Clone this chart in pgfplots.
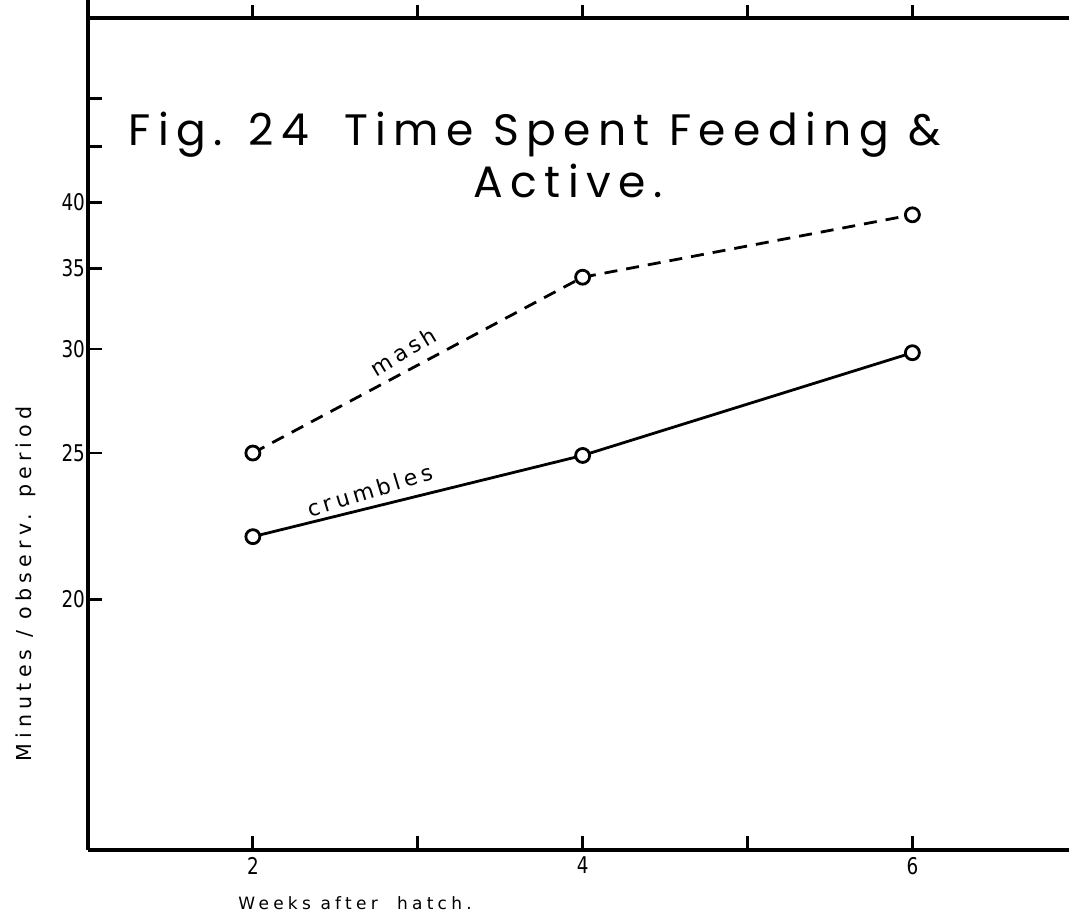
\documentclass[border=0pt]{standalone}
\usepackage{fontspec}
\setmainfont{DejaVu Sans}
\newfontfamily\titlefont[LetterSpace=17]{Poppins}
\newfontfamily\labelfont[LetterSpace=25]{DejaVu Sans}
\newfontfamily\curvefont[LetterSpace=18]{DejaVu Sans}
\newfontfamily\tickfont[FakeStretch=0.8]{DejaVu Sans}
\usepackage{pgfplots}
\pgfplotsset{compat=1.18}

\begin{document}
\begin{tikzpicture}
\begin{axis}[
    scale only axis,
    width=490.5pt, height=416pt,
    xmin=1, xmax=6.95,
    ymin=15, ymax=60,
    % hand-drawn scale: roughly logarithmic in (y-10)
    y coord trafo/.code={\pgfmathparse{ln(max(#1-10,0.001))}},
    y coord inv trafo/.code={\pgfmathparse{exp(#1)+10}},
    axis x line*=box, axis y line*=left,
    axis line style={line width=1.8pt, -},
    xtick={2,3,4,5,6}, xticklabels={2,,4,,6},
    ytick={20,25,30,35,40,45,50}, yticklabels={20,25,30,35,40,,},
    xtick pos=bottom, ytick pos=left,
    tick align=inside,
    major tick length=7pt,
    tick style={line width=1.4pt, black},
    tick label style={font=\tickfont\fontsize{11.5}{13}\selectfont},
    yticklabel style={xshift=2pt},
    /pgf/number format/assume math mode=true,
    clip=false,
]

% crumbles
\addplot[black, line width=1.4pt, mark=*, mark size=3.5pt,
    mark options={solid, fill=white, line width=1.4pt}]
    coordinates {(2,21.9) (4,24.9) (6,29.8)};

% mash
\addplot[black, line width=1.4pt, dash pattern=on 6.5pt off 4.5pt,
    mark=*, mark size=3.5pt, mark options={solid, fill=white, line width=1.4pt}]
    coordinates {(2,25.0) (4,34.4) (6,39.0)};

\node[rotate=31, anchor=south, inner sep=5pt, font=\curvefont\fontsize{11}{13}\selectfont]
    at (axis cs:2.97,29.0) {mash};
\node[rotate=17, anchor=south, inner sep=4pt, font=\curvefont\fontsize{11}{13}\selectfont]
    at (axis cs:2.74,22.93) {crumbles};

% ticks on the top edge point outwards
\draw[line width=1.4pt] (axis cs:2,60) -- ++(0pt,6.5pt);
\draw[line width=1.4pt] (axis cs:3,60) -- ++(0pt,6.5pt);
\draw[line width=1.4pt] (axis cs:4,60) -- ++(0pt,6.5pt);
\draw[line width=1.4pt] (axis cs:5,60) -- ++(0pt,6.5pt);
\draw[line width=1.4pt] (axis cs:6,60) -- ++(0pt,6.5pt);
\draw[line width=1.8pt] (axis cs:1,60) -- ++(0pt,10pt);

% title
\node[anchor=base west, inner sep=0, font=\titlefont\fontsize{22}{26}\selectfont]
    at (axis description cs:0.0408,0.8462) {Fig. 24\hspace{0.8em}Time Spent Feeding \&};
\node[anchor=base east, inner sep=0, font=\titlefont\fontsize{22}{26}\selectfont]
    at (axis description cs:0.586,0.7837) {Active.};

% axis labels
\node[anchor=base west, inner sep=0, font=\labelfont\fontsize{8.5}{10}\selectfont]
    at (axis description cs:0.153,-0.0721) {Weeks after\ \ hatch.};
\node[rotate=90, anchor=base, inner sep=0, font=\labelfont\fontsize{10.3}{12}\selectfont]
    at (axis description cs:-0.0571,0.3197) {Minutes / observ. period};
\end{axis}
\pgfresetboundingbox
\path[use as bounding box] ([xshift=-44pt,yshift=-34pt]current axis.south west)
    rectangle ([yshift=9pt]current axis.north east);
\end{tikzpicture}
\end{document}
